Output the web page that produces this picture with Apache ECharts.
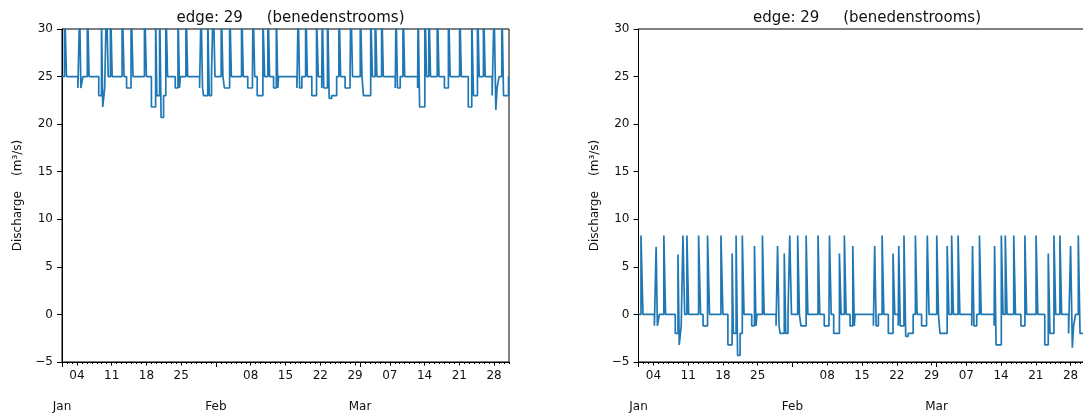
<!DOCTYPE html>
<html>
<head>
<meta charset="utf-8">
<script src="https://cdn.jsdelivr.net/npm/echarts@6/dist/echarts.min.js"></script>
<style>
html, body { margin: 0; padding: 0; background: #ffffff; }
#chart { width: 1083px; height: 414px; }
</style>
</head>
<body>
<div id="chart"></div>
<script>
// ---------------- data ----------------
const chartTitle = 'edge: 29     (benedenstrooms)';
const yAxisName = 'Discharge    (m\u00b3/s)';
const periodStart = '2024-01-01';
const periodEnd = '2024-03-31';

// change points of the step series, in days after periodStart
const stepDays = [
  0,
  0.5, 0.9,
  3.2, 3.55, 3.8, 4.2,
  5.1, 5.45,
  7.4, 7.95, 8.2, 8.6, 8.95, 9.3,
  9.75, 10.1,
  12.1, 12.5,
  13.0, 13.9, 14.3,
  16.6, 17.0,
  18.0, 18.85, 19.1, 19.65, 19.95, 20.45, 20.9, 21.25,
  22.8, 23.35, 23.65, 23.85,
  24.95, 25.3,
  27.7, 28.0, 28.3, 28.5, 29.35, 29.65, 30.1,
  30.45, 30.8,
  32.05, 32.4,
  32.7, 33.75, 34.1,
  36.15, 36.5,
  37.4, 38.35,
  38.45, 38.8,
  39.3, 40.45, 40.8,
  41.45, 41.8,
  42.6, 43.15, 43.45, 43.6,
  47.3, 47.55, 47.85, 48.3,
  49.05, 49.4,
  50.3, 51.25, 51.6,
  52.3, 52.4, 52.7, 53.45, 53.8, 54.3, 55.3,
  55.75, 56.1,
  57.0, 58.0,
  58.15, 58.5,
  60.05, 60.4,
  60.7, 62.15, 62.5,
  63.05, 63.4,
  64.35, 64.7,
  67.1, 67.25, 67.55, 68.1,
  68.65, 69.0,
  71.6, 71.7, 72.0, 73.05, 73.4,
  73.85, 74.2,
  75.55, 75.9,
  77.0, 77.8, 78.15,
  80.05, 80.4,
  81.8, 82.5, 82.85, 83.65, 84.0,
  84.85, 85.2,
  86.6, 87.0, 87.35, 87.6, 88.0,
  88.55, 88.9, 89.9, 90
];

// left panel discharge (m3/s)
const dischargeLeft = [
  25,
  33.3, 25,
  23.8, 32.1, 23.8, 25,
  33.3, 25,
  23, 31.3, 21.8, 23.8, 33.3, 25,
  33.3, 25,
  33.3, 25,
  23.8, 33.3, 25,
  33.3, 25,
  21.8, 31.4, 23, 33.3, 20.7, 23, 33.3, 25,
  23.8, 32.2, 23.8, 25,
  33.3, 25,
  23.8, 32.2, 23.8, 23, 31.4, 23, 25,
  33.3, 25,
  33.3, 25,
  23.8, 33.3, 25,
  33.3, 25,
  23.8, 25,
  33.3, 25,
  23, 31.4, 25,
  33.3, 25,
  23.8, 32.2, 23.8, 25,
  23.8, 32.2, 23.8, 25,
  33.3, 25,
  23, 31.4, 25,
  23.8, 32.2, 23.8, 33.3, 22.7, 23, 25,
  33.3, 25,
  23.8, 25,
  33.3, 25,
  33.3, 25,
  23, 32.2, 25,
  33.3, 25,
  33.3, 25,
  23.8, 32.2, 23.8, 25,
  33.3, 25,
  23.8, 32.2, 21.8, 33.3, 25,
  33.3, 25,
  33.3, 25,
  23.8, 33.3, 25,
  33.3, 25,
  21.8, 31.4, 23, 33.3, 25,
  33.3, 25,
  23, 32.2, 21.5, 23.8, 25,
  33.3, 23, 25, 25
];

// right panel discharge (m3/s)
const dischargeRight = [
  0,
  8.3, 0,
  -1.2, 7.1, -1.2, 0,
  8.3, 0,
  -2, 6.3, -3.2, -1.2, 8.3, 0,
  8.3, 0,
  8.3, 0,
  -1.2, 8.3, 0,
  8.3, 0,
  -3.2, 6.4, -2, 8.3, -4.3, -2, 8.3, 0,
  -1.2, 7.2, -1.2, 0,
  8.3, 0,
  -1.2, 7.2, -1.2, -2, 6.4, -2, 0,
  8.3, 0,
  8.3, 0,
  -1.2, 8.3, 0,
  8.3, 0,
  -1.2, 0,
  8.3, 0,
  -2, 6.4, 0,
  8.3, 0,
  -1.2, 7.2, -1.2, 0,
  -1.2, 7.2, -1.2, 0,
  8.3, 0,
  -2, 6.4, 0,
  -1.2, 7.2, -1.2, 8.3, -2.3, -2, 0,
  8.3, 0,
  -1.2, 0,
  8.3, 0,
  8.3, 0,
  -2, 7.2, 0,
  8.3, 0,
  8.3, 0,
  -1.2, 7.2, -1.2, 0,
  8.3, 0,
  -1.2, 7.2, -3.2, 8.3, 0,
  8.3, 0,
  8.3, 0,
  -1.2, 8.3, 0,
  8.3, 0,
  -3.2, 6.4, -2, 8.3, 0,
  8.3, 0,
  -2, 7.2, -3.5, -1.2, 0,
  8.3, -2, 0, 0
];

const weekTickDates = ['2024-01-04', '2024-01-11', '2024-01-18', '2024-01-25', '2024-02-01',
  '2024-02-08', '2024-02-15', '2024-02-22', '2024-02-29',
  '2024-03-07', '2024-03-14', '2024-03-21', '2024-03-28'];
const monthTickDates = ['2024-01-01', '2024-02-01', '2024-03-01'];
const monthTickLabels = ['Jan', 'Feb', 'Mar'];
const yMin = -5, yMax = 30, yStep = 5;

// ---------------- build ----------------
const DAY = 86400000;
function utc(s) { const p = s.split('-').map(Number); return Date.UTC(p[0], p[1] - 1, p[2]); }
const T0 = utc(periodStart), T1 = utc(periodEnd);
const weekTicks = weekTickDates.map(utc);
const monthTicks = monthTickDates.map(utc);
const weekLabelTicks = weekTicks.filter(t => monthTicks.indexOf(t) < 0);
const dayTicks = [];
for (let t = T0; t <= T1; t += DAY) dayTicks.push(t);

const FONT = 'DejaVu Sans';
const INK = '#000000';
const TXT = '#111111';
const LINE = '#1f77b4';
const pad2 = n => (n < 10 ? '0' : '') + n;

const grids = [
  { left: 62, top: 29, width: 447, height: 333 },
  { left: 638.5, top: 29, width: 447, height: 333 }
];

function xAxesFor(g) {
  const base = { type: 'value', gridIndex: g, min: T0, max: T1, position: 'bottom', scale: true, splitLine: { show: false } };
  return [
    Object.assign({}, base, {
      axisLine: { show: true, onZero: false, lineStyle: { color: INK, width: 1 } },
      axisTick: { show: true, customValues: weekTicks, length: 3.5, lineStyle: { color: INK, width: 1 } },
      axisLabel: { show: true, customValues: weekLabelTicks, formatter: v => pad2(new Date(v).getUTCDate()),
        fontFamily: FONT, fontSize: 12, color: TXT, margin: 8 }
    }),
    Object.assign({}, base, {
      axisLine: { show: false, onZero: false },
      axisTick: { show: true, customValues: dayTicks, length: 2, lineStyle: { color: INK, width: 1 } },
      axisLabel: { show: false }
    }),
    Object.assign({}, base, {
      axisLine: { show: false, onZero: false },
      axisTick: { show: true, customValues: monthTicks, length: 5, lineStyle: { color: INK, width: 1 } },
      axisLabel: { show: true, customValues: monthTicks,
        formatter: v => monthTickLabels[monthTicks.indexOf(v)] || '',
        fontFamily: FONT, fontSize: 12, color: TXT, margin: 39 }
    })
  ];
}

function yAxisFor(g) {
  return {
    type: 'value', gridIndex: g, min: yMin, max: yMax, interval: yStep,
    name: yAxisName, nameLocation: 'middle', nameRotate: 90, nameGap: 38,
    nameTextStyle: { fontFamily: FONT, fontSize: 12, color: TXT },
    axisLine: { show: true, onZero: false, lineStyle: { color: INK, width: 1 } },
    axisTick: { show: true, length: 5, lineStyle: { color: INK, width: 1 } },
    axisLabel: { fontFamily: FONT, fontSize: 12, color: TXT, margin: 9,
      formatter: v => String(v).replace('-', '\u2212') },
    splitLine: { show: false }
  };
}

function seriesFor(g, values) {
  return {
    type: 'line', xAxisIndex: g * 3, yAxisIndex: g,
    data: stepDays.map((d, i) => [T0 + d * DAY, values[i]]),
    step: 'end', symbol: 'none', showSymbol: false, clip: true,
    lineStyle: { color: LINE, width: 1.7 }, itemStyle: { color: LINE },
    emphasis: { disabled: true }
  };
}

const option = {
  animation: false,
  backgroundColor: '#ffffff',
  title: grids.map(gr => ({
    text: chartTitle, left: gr.left + gr.width / 2, top: 6, textAlign: 'center',
    textStyle: { fontFamily: FONT, fontSize: 15, fontWeight: 'normal', color: TXT }
  })),
  grid: grids.map(gr => Object.assign({ show: true, borderColor: INK, borderWidth: 1, backgroundColor: 'transparent',
    containLabel: false, outerBoundsMode: 'none' }, gr)),
  xAxis: [].concat(xAxesFor(0), xAxesFor(1)),
  yAxis: [yAxisFor(0), yAxisFor(1)],
  series: [seriesFor(0, dischargeLeft), seriesFor(1, dischargeRight)]
};

const chart = echarts.init(document.getElementById('chart'), null, { renderer: 'canvas' });
chart.setOption(option);
</script>
</body>
</html>
